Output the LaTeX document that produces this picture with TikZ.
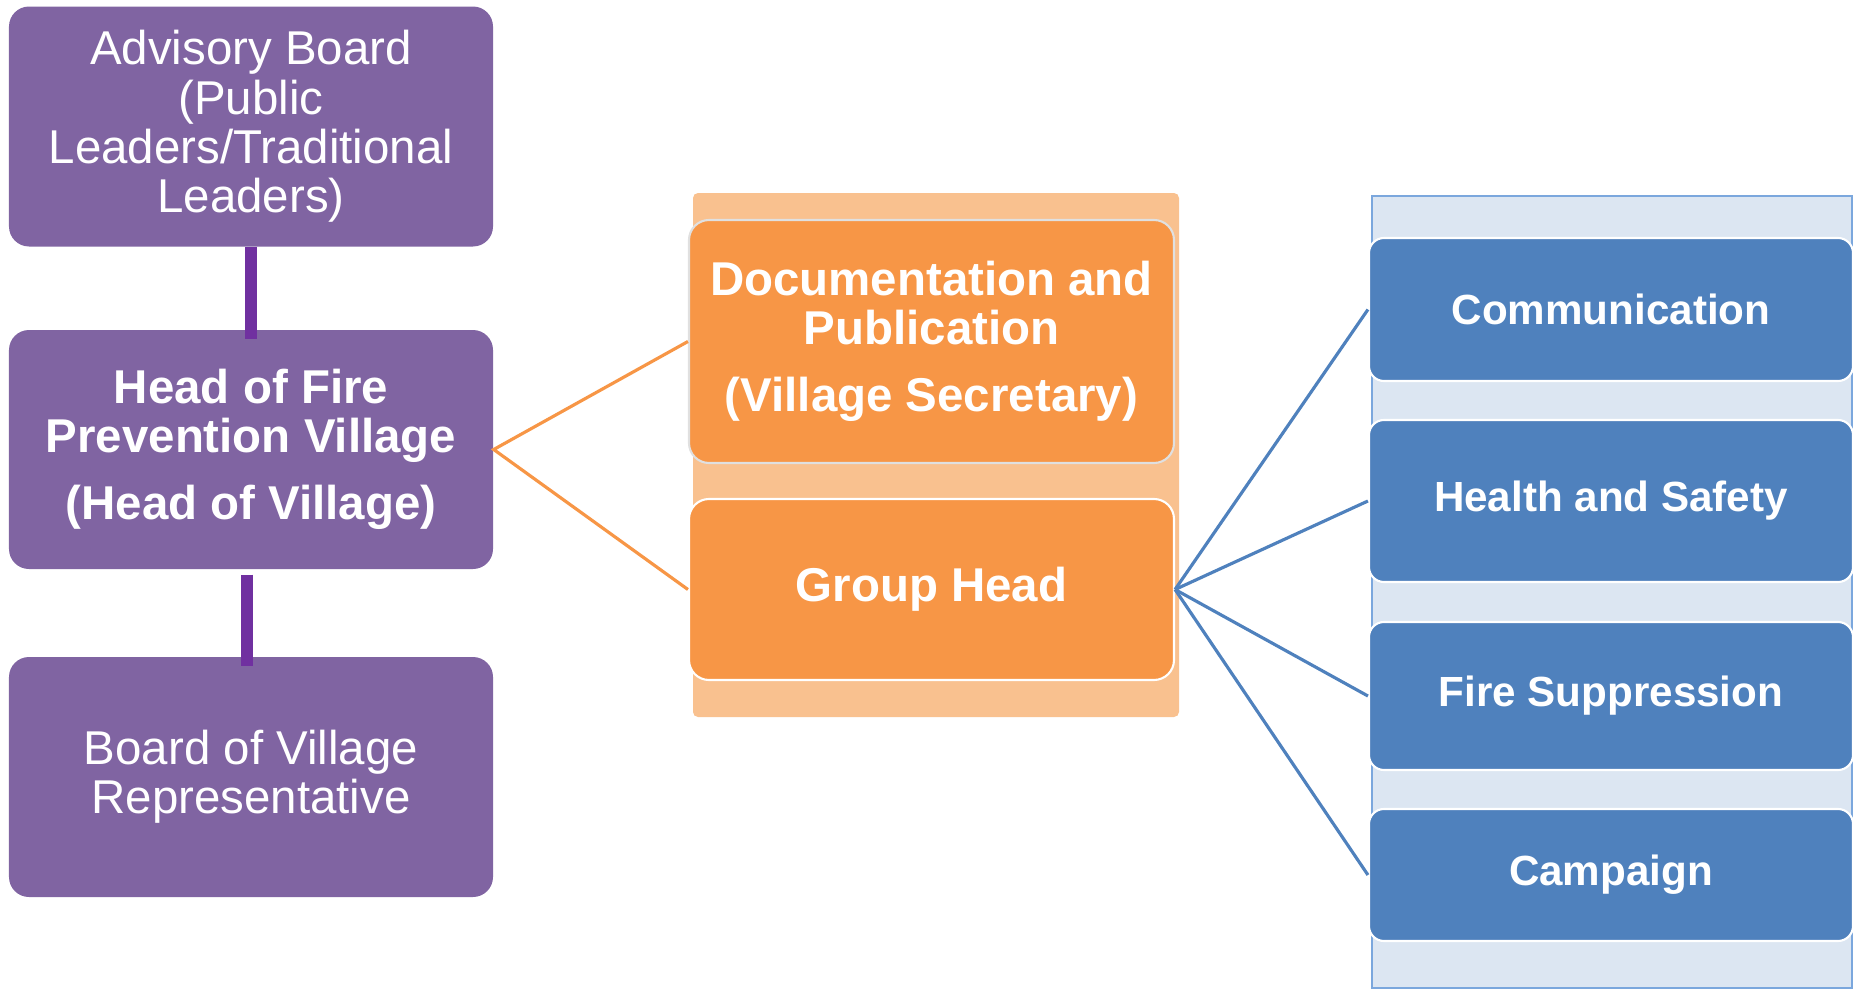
\documentclass[tikz,border=0pt]{standalone}
\usepackage{fontspec}
\setmainfont{Liberation Sans}
\usepackage{xcolor}
\usepackage{tikz}
\usetikzlibrary{positioning}

\definecolor{boxpurple}{HTML}{8064A2}
\definecolor{linkpurple}{HTML}{7030A0}
\definecolor{boxorange}{HTML}{F79646}
\definecolor{bgorange}{HTML}{F9C18F}
\definecolor{boxblue}{HTML}{4F81BD}
\definecolor{bgblue}{HTML}{DCE6F2}
\definecolor{edgeblue}{HTML}{7BA7DD}

\begin{document}
\begin{tikzpicture}[every node/.style={text=white, align=center, inner sep=0pt},
  pbox/.style={fill=boxpurple, rounded corners=2mm, minimum width=4.84cm, minimum height=2.4cm, font=\fontsize{13.5}{14}\selectfont},
  obox/.style={fill=boxorange, draw=white, line width=0.6pt, rounded corners=2mm, minimum width=4.85cm, font=\bfseries\fontsize{13.5}{14}\selectfont},
  bbox/.style={fill=boxblue, draw=white, line width=0.6pt, rounded corners=1.5mm, minimum width=4.84cm, font=\bfseries\fontsize{12}{14}\selectfont}]

\useasboundingbox (0,0) rectangle (18.58,-9.90);

\fill[bgorange, rounded corners=0.5mm] (6.93,-1.93) rectangle (11.79,-7.17);
\draw[edgeblue, fill=bgblue, line width=0.6pt] (13.72,-1.96) rectangle (18.52,-9.88);

\node[pbox] (adv) at (2.51,-1.265) {Advisory Board\\(Public\\Leaders/Traditional\\Leaders)};
\node[pbox, minimum height=2.39cm] (head) at (2.51,-4.495) {\bfseries Head of Fire\\\bfseries Prevention Village\\[5pt]\bfseries (Head of Village)};
\node[pbox] (board) at (2.51,-7.77) {Board of Village\\Representative};

\node[obox, draw=black!12, minimum height=2.43cm] (doc) at (9.315,-3.415) {Documentation and\\Publication\\[5pt](Village Secretary)};
\node[obox, minimum height=1.81cm] (group) at (9.315,-5.895) {Group Head};

\node[bbox, minimum height=1.43cm] (comm) at (16.11,-3.095) {Communication};
\node[bbox, minimum height=1.62cm] (health) at (16.11,-5.01) {Health and Safety};
\node[bbox, minimum height=1.48cm] (fire) at (16.11,-6.96) {Fire Suppression};
\node[bbox, minimum height=1.32cm] (camp) at (16.11,-8.75) {Campaign};

\draw[linkpurple, line width=3.4pt] (adv.south) -- ([yshift=-1mm]head.north);
\draw[linkpurple, line width=3.4pt] ([xshift=-1.1pt, yshift=-0.5mm]head.south) -- ([xshift=-1.1pt, yshift=-1mm]board.north);

\draw[boxorange, line width=0.9pt] (doc.west) -- (head.east) -- (group.west);
\foreach \b in {comm,health,fire,camp}
  \draw[boxblue, line width=0.9pt] (group.east) -- (\b.west);
\end{tikzpicture}
\end{document}
